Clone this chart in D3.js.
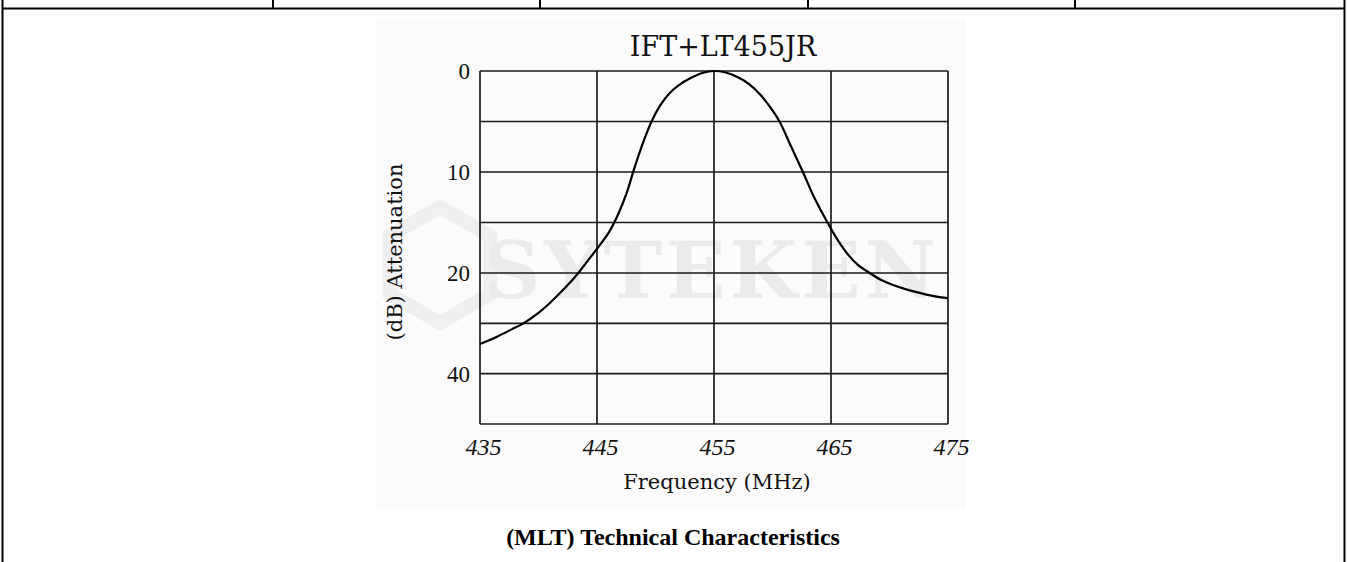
<!DOCTYPE html>
<html>
<head>
<meta charset="utf-8">
<script src="https://cdn.jsdelivr.net/npm/d3@7"></script>
<style>
  body { margin: 0; background: #fff; }
  svg { display: block; }
</style>
</head>
<body>
<div id="chart"></div>
<script>
// values
const freq = [435, 436.5, 437.7, 438.7, 440, 441, 442, 442.7, 443.4, 444.2, 445, 446, 446.8, 447.5, 448.2, 449,
              449.7, 450.4, 451.2, 452, 453, 454, 455, 456, 457, 458, 459, 460, 460.6, 461.6, 462.6, 463.6,
              464.7, 465.5, 466.4, 467.3, 468.3, 469.3, 470.3, 471.5, 472.5, 474, 475]
const atten = [34.1, 32.6, 31.2, 30, 27.9, 25.9, 23.6, 21.9, 20, 18.8, 17.6, 16.0, 14.2, 12.2, 9.6, 6.9,
               4.9, 3.4, 2.2, 1.4, 0.7, 0.2, 0, 0.15, 0.6, 1.3, 2.4, 3.9, 5, 7.5, 10, 12.6,
               15, 16.6, 18.1, 19.2, 20, 21.4, 22.4, 23.3, 23.9, 24.7, 25]
const xTicks = [435, 445, 455, 465, 475]
const yTicks = [0, 10, 20, 40]
const yGrid = [0, 5, 10, 15, 20, 30, 40, 50]

const W = 1347, H = 562
const plot = {left: 480, right: 948, top: 71, bottom: 424}

const svg = d3.select("#chart")
    .append("svg")
    .attr("width", W)
    .attr("height", H)

// page table borders
const border = svg.append("g").attr("stroke", "#000").attr("stroke-width", 2)
border.append("line").attr("x1", 2).attr("x2", 1345).attr("y1", 8.5).attr("y2", 8.5)
;[273, 540, 808, 1075].forEach(x => {
    border.append("line").attr("x1", x).attr("x2", x).attr("y1", 0).attr("y2", 8.5)
})
border.append("line").attr("x1", 2.5).attr("x2", 2.5).attr("y1", 0).attr("y2", H)
border.append("line").attr("x1", 1344.5).attr("x2", 1344.5).attr("y1", 0).attr("y2", H)

// faint image background + watermark
svg.append("rect").attr("x", 376).attr("y", 18).attr("width", 590).attr("height", 492).attr("fill", "#fbfbfb")
const hex = d3.range(6).map(i => {
    const a = Math.PI / 6 + i * Math.PI / 3
    return [440 + 58 * Math.cos(a), 265 + 58 * Math.sin(a)]
})
svg.append("polygon")
    .attr("points", hex.map(p => p.join(",")).join(" "))
    .attr("fill", "none").attr("stroke", "#efefef").attr("stroke-width", 14)
svg.append("text")
    .attr("x", 712).attr("y", 298)
    .attr("text-anchor", "middle")
    .attr("font-family", "DejaVu Serif")
    .attr("font-weight", "bold")
    .attr("font-size", 78)
    .attr("letter-spacing", 4)
    .attr("fill", "#ebebeb")
    .text("SYTEKEN")

const x = d3.scaleLinear()
    .domain([435, 475])
    .range([plot.left, plot.right])

// the printed axis is uneven: 0-20 over four rows, 20-40 over two, then one more row
const y = d3.scaleLinear()
    .domain([0, 20, 50])
    .range([plot.top, 273, plot.bottom])

const g = svg.append("g")

// grid
g.append("g")
    .selectAll("line")
    .data(yGrid)
    .join("line")
        .attr("x1", plot.left).attr("x2", plot.right)
        .attr("y1", d => y(d)).attr("y2", d => y(d))
        .attr("stroke", "#1a1a1a").attr("stroke-width", 1.7)

g.append("g")
    .selectAll("line")
    .data(xTicks)
    .join("line")
        .attr("x1", d => x(d)).attr("x2", d => x(d))
        .attr("y1", plot.top).attr("y2", plot.bottom)
        .attr("stroke", "#1a1a1a").attr("stroke-width", 1.7)

// axes (labels only)
const xAxis = g.append("g")
    .attr("transform", `translate(0, ${plot.bottom})`)
    .call(d3.axisBottom(x).tickValues(xTicks).tickSize(0).tickPadding(14).tickFormat(d3.format("d")))
xAxis.select(".domain").remove()
xAxis.selectAll("text")
    .attr("font-family", "Liberation Serif")
    .attr("font-style", "italic")
    .attr("font-size", 24)
    .attr("dx", 3)
    .attr("fill", "#111")

const yAxis = g.append("g")
    .attr("transform", `translate(${plot.left}, 0)`)
    .call(d3.axisLeft(y).tickValues(yTicks).tickSize(0).tickPadding(10).tickFormat(d3.format("d")))
yAxis.select(".domain").remove()
yAxis.selectAll("text")
    .attr("font-family", "Liberation Serif")
    .attr("font-size", 23)
    .attr("fill", "#111")

// curve
const pts = freq.map((f, i) => [f, atten[i]])
g.append("path")
    .datum(pts)
    .attr("fill", "none")
    .attr("stroke", "#000")
    .attr("stroke-width", 2.2)
    .attr("d", d3.line().x(d => x(d[0])).y(d => y(d[1])).curve(d3.curveCatmullRom.alpha(0.5)))

// texts
svg.append("text")
    .attr("x", 723).attr("y", 56)
    .attr("text-anchor", "middle")
    .attr("font-family", "DejaVu Serif")
    .attr("font-size", 27)
    .attr("fill", "#111")
    .text("IFT+LT455JR")

svg.append("text")
    .attr("x", 717).attr("y", 489)
    .attr("text-anchor", "middle")
    .attr("font-family", "DejaVu Serif")
    .attr("font-size", 21)
    .attr("fill", "#111")
    .text("Frequency (MHz)")

svg.append("text")
    .attr("transform", "translate(402, 252) rotate(-90)")
    .attr("text-anchor", "middle")
    .attr("font-family", "DejaVu Serif")
    .attr("font-size", 21)
    .attr("fill", "#111")
    .text("(dB) Attenuation")

svg.append("text")
    .attr("x", 673).attr("y", 545)
    .attr("text-anchor", "middle")
    .attr("font-family", "Liberation Serif")
    .attr("font-weight", "bold")
    .attr("font-size", 24)
    .attr("fill", "#000")
    .text("(MLT) Technical Characteristics")
</script>
</body>
</html>
